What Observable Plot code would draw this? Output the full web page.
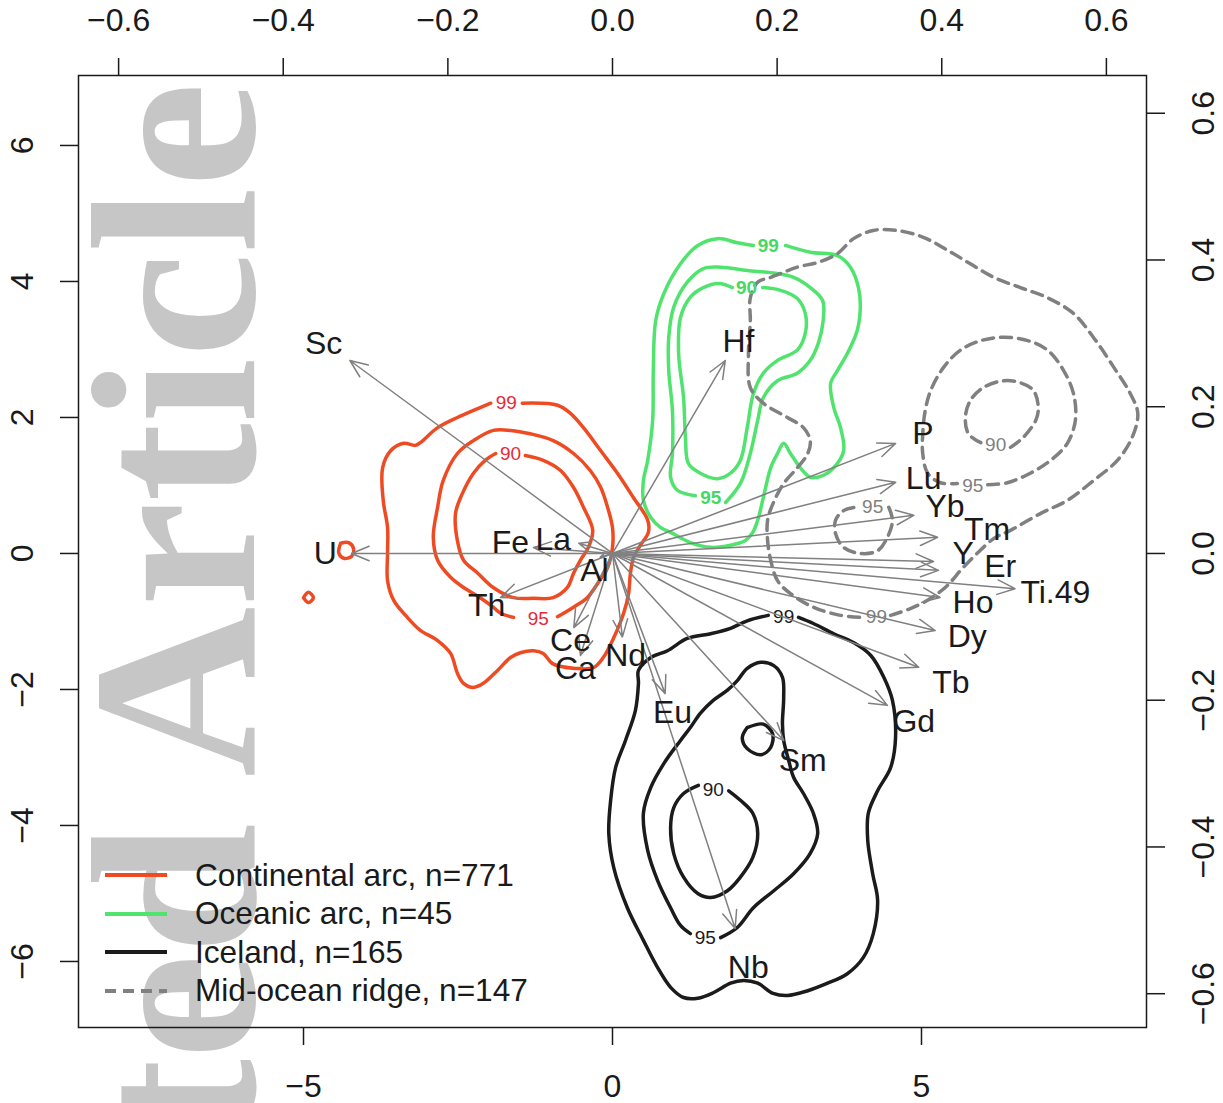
<!DOCTYPE html>
<html><head><meta charset="utf-8">
<script src="https://cdn.jsdelivr.net/npm/d3@7"></script>
<script src="https://cdn.jsdelivr.net/npm/@observablehq/plot@0.6"></script>
<style>
body{margin:0;background:#fff;}
#wrap{position:relative;width:1223px;height:1103px;}
#legend{position:absolute;left:105px;top:856px;font-family:"Liberation Sans",Arial,sans-serif;font-size:31.6px;color:#1a1a1a;}
.row{display:flex;align-items:center;height:38.5px;white-space:nowrap;}
.row svg{width:62px;height:10px;margin-right:28px;flex:none;}
</style></head><body><div id="wrap"><div id="chart"></div><div id="legend"></div></div>
<script>
// ---------- series ----------
const seriesNames = ["Continental arc, n=771", "Oceanic arc, n=45", "Iceland, n=165", "Mid-ocean ridge, n=147"];
const seriesColors = ["#ef4b23", "#50e36e", "#1b1b1b", "#808080"];
const labelColors = ["#e52b3a", "#46d865", "#1b1b1b", "#808080"];

// ---------- contour polylines (score units) ----------
const red99 = [[-1.46,2.21],[-0.89,2.18],[-0.68,2.06],[-0.47,1.85],[-0.19,1.51],[0.08,1.18],[0.34,0.82],[0.57,0.49],[0.58,0.31],[0.45,0.12],[0.34,-0.06],[0.29,-0.29],[0.26,-0.59],[0.18,-0.88],[0.02,-1.24],[-0.15,-1.53],[-0.31,-1.68],[-0.6,-1.69],[-0.97,-1.62],[-1.12,-1.47],[-1.28,-1.43],[-1.49,-1.46],[-1.65,-1.53],[-1.86,-1.72],[-2.09,-1.91],[-2.25,-1.97],[-2.41,-1.91],[-2.51,-1.76],[-2.62,-1.47],[-2.83,-1.28],[-3.11,-1.13],[-3.32,-0.94],[-3.54,-0.69],[-3.64,-0.4],[-3.64,0],[-3.64,0.38],[-3.71,0.78],[-3.72,1.26],[-3.59,1.51],[-3.38,1.62],[-3.19,1.59],[-3.11,1.63],[-2.83,1.85],[-2.51,2.0],[-2.18,2.13],[-1.97,2.21]];
const red95 = [[-0.89,-0.93],[-0.63,-0.79],[-0.41,-0.65],[-0.24,-0.44],[-0.08,-0.21],[0,0.09],[0,0.38],[-0.08,0.68],[-0.19,0.97],[-0.36,1.22],[-0.63,1.47],[-0.96,1.66],[-1.33,1.76],[-1.65,1.81],[-1.93,1.81],[-2.25,1.66],[-2.51,1.47],[-2.74,1.07],[-2.83,0.68],[-2.9,0.24],[-2.83,-0.1],[-2.62,-0.35],[-2.41,-0.5],[-2.14,-0.65],[-1.93,-0.79],[-1.81,-0.88],[-1.6,-0.94]];
const red90 = [[-1.41,1.44],[-1.12,1.37],[-0.84,1.22],[-0.63,0.97],[-0.47,0.68],[-0.32,0.34],[-0.39,0.09],[-0.52,-0.1],[-0.63,-0.29],[-0.73,-0.5],[-0.96,-0.65],[-1.28,-0.66],[-1.6,-0.65],[-1.93,-0.5],[-2.18,-0.29],[-2.41,-0.1],[-2.51,0.19],[-2.54,0.59],[-2.43,0.88],[-2.25,1.18],[-2.06,1.37],[-1.89,1.47]];
const redU = [[-4.4,0.15],[-4.27,0.16],[-4.19,0.07],[-4.22,-0.04],[-4.35,-0.07],[-4.43,0.01],[-4.4,0.15]];
const redD = [[-5.0,-0.65],[-4.92,-0.57],[-4.84,-0.65],[-4.92,-0.72],[-5.0,-0.65]];

const green99 = [[2.8,4.53],[3.2,4.43],[3.64,4.38],[3.85,4.21],[3.98,3.91],[4.01,3.62],[3.96,3.28],[3.8,2.94],[3.64,2.69],[3.53,2.5],[3.58,2.15],[3.69,1.85],[3.74,1.51],[3.58,1.26],[3.41,1.15],[3.2,1.12],[3.04,1.26],[2.88,1.47],[2.77,1.62],[2.67,1.47],[2.56,1.26],[2.44,0.82],[2.35,0.49],[2.27,0.31],[2.15,0.19],[1.91,0.12],[1.59,0.09],[1.26,0.16],[0.94,0.31],[0.78,0.38],[0.62,0.53],[0.5,0.78],[0.5,1.07],[0.57,1.37],[0.65,1.96],[0.66,2.69],[0.7,3.43],[0.83,3.82],[1.1,4.26],[1.38,4.53],[1.7,4.63],[2.02,4.57],[2.28,4.53]];
const green95 = [[1.83,0.75],[2.07,1.03],[2.23,1.47],[2.35,1.96],[2.44,2.29],[2.67,2.54],[2.99,2.65],[3.2,2.84],[3.33,3.09],[3.41,3.43],[3.4,3.72],[3.2,3.91],[2.93,4.06],[2.56,4.13],[2.18,4.16],[1.75,4.21],[1.47,4.19],[1.21,3.99],[0.99,3.62],[0.91,3.18],[0.91,2.69],[0.97,2.1],[0.97,1.47],[0.94,1.12],[1.05,0.93],[1.34,0.85]];
const green90 = [[2.43,3.91],[2.72,3.87],[2.99,3.75],[3.12,3.53],[3.12,3.24],[2.99,2.99],[2.67,2.84],[2.44,2.65],[2.28,2.35],[2.18,1.85],[2.07,1.37],[1.91,1.18],[1.7,1.1],[1.42,1.18],[1.23,1.32],[1.18,1.71],[1.15,2.29],[1.07,2.94],[1.1,3.47],[1.26,3.77],[1.47,3.91],[1.72,3.97],[1.94,3.91]];

const ice99 = [[3.01,-0.94],[3.25,-1.03],[3.58,-1.18],[3.9,-1.31],[4.18,-1.5],[4.39,-1.82],[4.53,-2.16],[4.58,-2.71],[4.5,-3.15],[4.29,-3.49],[4.14,-3.82],[4.13,-4.22],[4.21,-4.71],[4.29,-5.1],[4.22,-5.59],[4.06,-5.94],[3.8,-6.18],[3.48,-6.32],[3.16,-6.43],[2.83,-6.5],[2.6,-6.47],[2.35,-6.32],[2.12,-6.28],[1.91,-6.32],[1.63,-6.46],[1.38,-6.54],[1.15,-6.53],[0.94,-6.38],[0.73,-6.09],[0.5,-5.69],[0.24,-5.21],[0.02,-4.62],[-0.06,-4.12],[-0.03,-3.63],[0.05,-3.15],[0.21,-2.75],[0.37,-2.31],[0.42,-1.91],[0.42,-1.72],[0.62,-1.53],[0.89,-1.43],[1.21,-1.25],[1.59,-1.18],[1.91,-1.1],[2.18,-0.99],[2.52,-0.91]];
const ice95 = [[1.75,-5.65],[2.02,-5.5],[2.28,-5.21],[2.61,-4.96],[2.93,-4.71],[3.2,-4.41],[3.32,-4.12],[3.25,-3.82],[3.09,-3.53],[2.93,-3.29],[2.85,-3.04],[2.77,-2.75],[2.75,-2.5],[2.77,-2.12],[2.75,-1.82],[2.61,-1.65],[2.4,-1.6],[2.18,-1.69],[2.02,-1.87],[1.86,-2.01],[1.63,-2.16],[1.42,-2.35],[1.26,-2.56],[1.1,-2.75],[0.83,-3.09],[0.62,-3.44],[0.5,-3.82],[0.57,-4.37],[0.73,-4.81],[0.94,-5.21],[1.1,-5.47],[1.26,-5.59]];
const ice90 = [[1.88,-3.49],[2.07,-3.63],[2.27,-3.82],[2.35,-4.12],[2.27,-4.47],[2.07,-4.76],[1.86,-4.96],[1.59,-5.06],[1.38,-5.0],[1.15,-4.76],[0.99,-4.41],[0.94,-4.03],[0.99,-3.74],[1.15,-3.53],[1.39,-3.41]];
const iceS = [[2.18,-2.56],[2.44,-2.51],[2.59,-2.65],[2.56,-2.85],[2.4,-2.96],[2.18,-2.87],[2.1,-2.71],[2.18,-2.56]];

const mor99 = [[4.5,-0.91],[4.82,-0.81],[5.15,-0.66],[5.42,-0.47],[5.66,-0.22],[5.91,0.01],[6.17,0.22],[6.44,0.34],[6.93,0.59],[7.36,0.78],[7.78,1.07],[8.17,1.37],[8.41,1.71],[8.5,2.06],[8.38,2.35],[8.11,2.74],[7.78,3.18],[7.46,3.53],[7.04,3.76],[6.6,3.91],[6.17,4.06],[5.79,4.26],[5.42,4.46],[5.03,4.65],[4.61,4.75],[4.22,4.75],[3.9,4.63],[3.64,4.41],[3.32,4.28],[2.99,4.21],[2.56,4.06],[2.35,3.99],[2.23,3.76],[2.23,3.43],[2.2,2.94],[2.23,2.44],[2.44,2.21],[2.83,2.0],[3.09,1.85],[3.2,1.66],[3.16,1.47],[2.99,1.26],[2.77,1.03],[2.6,0.74],[2.51,0.49],[2.51,0.19],[2.56,-0.1],[2.67,-0.4],[2.88,-0.59],[3.25,-0.79],[3.69,-0.91],[4.01,-0.94]];
const mor95 = [[6.07,1.01],[6.39,1.04],[6.76,1.18],[7.09,1.37],[7.36,1.62],[7.49,1.96],[7.46,2.35],[7.3,2.69],[7.04,2.99],[6.72,3.13],[6.33,3.18],[5.96,3.13],[5.63,2.99],[5.36,2.74],[5.15,2.4],[5.06,2.1],[5.02,1.76],[5.02,1.47],[5.1,1.18],[5.31,1.04],[5.58,1.03]];
const mor90 = [[6.44,1.56],[6.65,1.71],[6.85,1.96],[6.89,2.15],[6.81,2.4],[6.6,2.51],[6.33,2.54],[6.0,2.44],[5.79,2.25],[5.71,2.0],[5.76,1.76],[5.96,1.63]];
const mor95b = [[4.47,0.68],[4.53,0.49],[4.45,0.24],[4.29,0.04],[4.01,0],[3.74,0.09],[3.61,0.29],[3.61,0.49],[3.74,0.63],[3.93,0.68]];

const contourSeries = [0,0,0,0,0, 1,1,1, 2,2,2,2, 3,3,3,3];
const contourPaths  = [red99,red95,red90,redU,redD, green99,green95,green90, ice99,ice95,ice90,iceS, mor99,mor95,mor90,mor95b];

// ---------- contour labels ----------
const clText   = ["99","90","95", "99","90","95", "99","90","95", "90","95","95","99"];
const clSeries = [0,0,0, 1,1,1, 2,2,2, 3,3,3,3];
const clX = [-1.72,-1.65,-1.2, 2.52,2.17,1.59, 2.77,1.63,1.5, 6.2,5.83,4.21,4.27];
const clY = [2.22,1.46,-0.96, 4.53,3.91,0.81, -0.93,-3.47,-5.65, 1.6,1.0,0.68,-0.94];

// ---------- biplot loadings ----------
const varNames = ["Sc","U","Fe","La","Al","Th","Ce","Ca","Nd","Eu","Sm","Nb","Gd","Tb","Dy","Ho","Ti.49","Er","Y","Tm","Yb","Lu","P","Hf"];
const tipX = [-0.319,-0.317,-0.096,-0.041,-0.015,-0.136,-0.047,-0.039,0.012,0.064,0.208,0.149,0.334,0.372,0.392,0.398,0.489,0.396,0.390,0.395,0.366,0.344,0.344,0.137];
const tipY = [0.263,0,0.008,0.014,-0.005,-0.060,-0.101,-0.139,-0.114,-0.191,-0.255,-0.511,-0.207,-0.155,-0.105,-0.060,-0.048,-0.023,-0.011,0.022,0.052,0.097,0.150,0.263];
const labX = [-0.351,-0.349,-0.124,-0.072,-0.022,-0.153,-0.051,-0.045,0.016,0.073,0.231,0.165,0.366,0.411,0.431,0.438,0.538,0.471,0.426,0.455,0.404,0.378,0.377,0.153];
const labY = [0.286,0,0.015,0.019,-0.023,-0.071,-0.119,-0.157,-0.139,-0.217,-0.282,-0.565,-0.229,-0.176,-0.114,-0.067,-0.053,-0.018,0,0.033,0.063,0.102,0.163,0.289];

// ---------- axes ----------
const bottomTicks = [-5,0,5];
const leftTicks = [-6,-4,-2,0,2,4,6];
const topTicks = [-0.6,-0.4,-0.2,0,0.2,0.4,0.6];
const rightTicks = [-0.6,-0.4,-0.2,0,0.2,0.4,0.6];
const kx = 13.32, ky = 10.79; // loading axis -> score axis ratio

// ---------- build tables ----------
const contourRows = contourPaths.flatMap((p, i) => p.map(([x, y]) => ({x, y, id: i, s: contourSeries[i]})));
const clRows = clText.map((t, i) => ({t, s: clSeries[i], x: clX[i], y: clY[i]}));
const vars = varNames.map((n, i) => ({n, tx: tipX[i]*kx, ty: tipY[i]*ky, lx: labX[i]*kx, ly: labY[i]*ky}));
const fmt = d3.format(".1f");

const font = "'Liberation Sans', Arial, Helvetica, sans-serif";
const marks = [
  Plot.text(["Accepted Article"], {frameAnchor: "top-left", dx: 175, dy: 7, rotate: -90, textAnchor: "end", lineAnchor: "bottom",
    fontSize: 236, fontWeight: "bold", fontFamily: "'Liberation Serif', 'DejaVu Serif', serif", fill: "#c6c6c6"})
];
for (let s = 0; s < 4; s++) {
  marks.push(Plot.line(contourRows.filter(r => r.s === s), {
    x: "x", y: "y", z: "id", stroke: seriesColors[s], strokeWidth: 3.5, curve: "catmull-rom",
    strokeLinejoin: "round", ...(s === 3 ? {strokeDasharray: "11,7"} : {strokeLinecap: "round"})
  }));
}
for (let s = 0; s < 4; s++) {
  marks.push(Plot.text(clRows.filter(r => r.s === s), {
    x: "x", y: "y", text: "t", fill: labelColors[s], fontSize: 19,
    fontWeight: s === 1 ? "bold" : "normal",
    fontStyle: s === 2 ? (d => d.t === "99" ? "normal" : "italic") : "normal"
  }));
}
marks.push(
  Plot.arrow(vars, {x1: 0, y1: 0, x2: "tx", y2: "ty", stroke: "#808080", strokeWidth: 1.5, headLength: 19, headAngle: 45}),
  Plot.text(vars, {x: "lx", y: "ly", text: "n", fontSize: 32, fill: "#1a1a1a"}),
  Plot.frame({stroke: "#1a1a1a", strokeWidth: 1.5}),
  Plot.axisX({anchor: "bottom", ticks: bottomTicks, tickSize: 18, tickPadding: 29, fontSize: 32, strokeWidth: 1.5, label: null}),
  Plot.axisX({anchor: "top", ticks: topTicks.map(v => v*kx), tickFormat: d => fmt(d/kx), tickSize: 18, tickPadding: 27, fontSize: 32, strokeWidth: 1.5, label: null}),
  Plot.axisY({anchor: "left", ticks: leftTicks, tickSize: 18, tickRotate: -90, tickPadding: 28, fontSize: 32, strokeWidth: 1.5, label: null}),
  Plot.axisY({anchor: "right", ticks: rightTicks.map(v => v*ky), tickFormat: d => fmt(d/ky), tickSize: 18, tickRotate: -90, lineAnchor: "top", tickPadding: 27, fontSize: 32, strokeWidth: 1.5, label: null})
);

const plot = Plot.plot({
  width: 1223, height: 1103,
  marginLeft: 78, marginRight: 77, marginTop: 75, marginBottom: 76,
  x: {domain: [-8.641, 8.641]},
  y: {domain: [-6.971, 7.029]},
  style: {fontFamily: font, fontSize: "32px", color: "#1a1a1a", background: "transparent", overflow: "visible"},
  marks
});
document.getElementById("chart").append(plot);

// ---------- legend ----------
const legend = document.getElementById("legend");
seriesNames.forEach((name, i) => {
  const row = document.createElement("div");
  row.className = "row";
  const dash = i === 3 ? 'stroke-dasharray="11,7"' : 'stroke-linecap="butt"';
  row.innerHTML = `<svg viewBox="0 0 62 10"><line x1="0" y1="5" x2="62" y2="5" stroke="${seriesColors[i]}" stroke-width="4" ${dash}/></svg><span>${name}</span>`;
  legend.append(row);
});
</script></body></html>
